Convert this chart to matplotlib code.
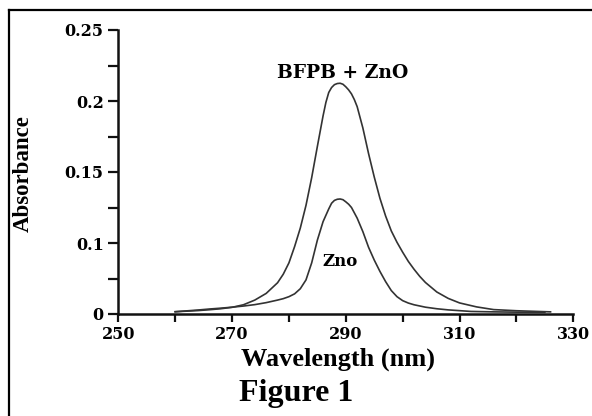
import matplotlib
matplotlib.use("Agg")
import matplotlib.pyplot as plt
from matplotlib.lines import Line2D

# ---- data ----
wl_bfpb = [260, 262, 264, 266, 268, 270, 272, 274, 276, 278, 279, 280, 281, 282, 283,
           284, 285, 286, 286.5, 287, 287.5, 288, 288.5, 289, 289.5, 290, 290.5, 291,
           291.5, 292, 293, 294, 295, 296, 297, 298, 299, 300, 301, 302, 303, 304,
           306, 308, 310, 313, 316, 320, 323, 326]
abs_bfpb = [0.0516, 0.0520, 0.0524, 0.0530, 0.0537, 0.0547, 0.0565, 0.0598, 0.0645,
            0.0720, 0.0780, 0.0860, 0.0975, 0.1105, 0.1265, 0.1460, 0.1680, 0.1895,
            0.1990, 0.2060, 0.2095, 0.2115, 0.2123, 0.2125, 0.2118, 0.2100, 0.2078,
            0.2050, 0.2010, 0.1960, 0.1810, 0.1630, 0.1465, 0.1315, 0.1190, 0.1085,
            0.1005, 0.0935, 0.0870, 0.0815, 0.0765, 0.0722, 0.0655, 0.0610, 0.0578,
            0.0550, 0.0531, 0.0523, 0.0519, 0.0515]

wl_zno = [260, 262, 264, 266, 268, 270, 272, 274, 276, 278, 279, 280, 281, 282, 283,
          284, 285, 286, 287, 287.5, 288, 288.5, 289, 289.5, 290, 290.5, 291, 292, 293,
          294, 295, 296, 297, 298, 299, 300, 301, 302, 304, 306, 308, 312, 316, 320, 325]
abs_zno = [0.0516, 0.0522, 0.0528, 0.0535, 0.0541, 0.0548, 0.0556, 0.0566, 0.0580,
           0.0598, 0.0608, 0.0622, 0.0642, 0.0678, 0.0740, 0.0860, 0.1020, 0.1150,
           0.1240, 0.1280, 0.1300, 0.1308, 0.1310, 0.1305, 0.1290, 0.1273, 0.1250,
           0.1175, 0.1080, 0.0970, 0.0880, 0.0800, 0.0728, 0.0665, 0.0622, 0.0594,
           0.0577, 0.0565, 0.0548, 0.0537, 0.0529, 0.0518, 0.0515, 0.0513, 0.0512]

x_ticks = [250, 260, 270, 280, 290, 300, 310, 320, 330]
x_labels = ["250", "", "270", "", "290", "", "310", "", "330"]
y_ticks = [0.05, 0.075, 0.1, 0.125, 0.15, 0.175, 0.2, 0.225, 0.25]
y_labels = ["0", "", "0.1", "", "0.15", "", "0.2", "", "0.25"]

label_bfpb = "BFPB + ZnO"
label_zno = "Zno"

W, H = 592, 416
fig = plt.figure(figsize=(W / 100, H / 100), dpi=100)
serif = "Liberation Serif"
wide = "DejaVu Serif"

ax = fig.add_axes([118.3 / W, 1 - 314 / H, (573.3 - 118.3) / W, (314 - 30) / H])
ax.plot(wl_bfpb, abs_bfpb, color="#333333", lw=1.2)
ax.plot(wl_zno, abs_zno, color="#333333", lw=1.2)
ax.set_xlim(250, 330)
ax.set_ylim(0.05, 0.25)

for s in ["top", "right"]:
    ax.spines[s].set_visible(False)
for s in ["left", "bottom"]:
    ax.spines[s].set_linewidth(1.8)
    ax.spines[s].set_color("#111111")

ax.set_xticks(x_ticks)
ax.set_xticklabels(x_labels)
ax.set_yticks(y_ticks)
ax.set_yticklabels(y_labels)
ax.tick_params(axis="both", direction="out", width=1.6, color="#111111")
ax.tick_params(axis="x", length=5.5, pad=3)
ax.tick_params(axis="y", length=7.5, pad=3)
for lab in ax.get_xticklabels() + ax.get_yticklabels():
    lab.set_fontfamily(wide)
    lab.set_fontweight("bold")
    lab.set_fontsize(11.5)

ax.text(289.5, 0.2200, label_bfpb, ha="center", va="center",
        fontfamily=wide, fontweight="bold", fontsize=13.5)
ax.text(289.0, 0.0868, label_zno, ha="center", va="center",
        fontfamily=wide, fontweight="bold", fontsize=12)

fig.text(23 / W, 1 - 174 / H, "Absorbance", rotation=90, ha="center", va="center",
         fontfamily=serif, fontweight="bold", fontsize=16.5)
fig.text(338 / W, 1 - 359 / H, "Wavelength (nm)", ha="center", va="center",
         fontfamily=serif, fontweight="bold", fontsize=19)
fig.text(296 / W, 1 - 393 / H, "Figure 1", ha="center", va="center",
         fontfamily=serif, fontweight="bold", fontsize=23)

# outer frame (left and top edges visible)
fig.add_artist(Line2D([8.5 / W, 8.5 / W], [0, 1 - 10 / H], transform=fig.transFigure,
                      color="black", lw=1.6))
fig.add_artist(Line2D([8.5 / W, 1], [1 - 10 / H, 1 - 10 / H], transform=fig.transFigure,
                      color="black", lw=1.6))

fig.savefig("out.png", dpi=100)
